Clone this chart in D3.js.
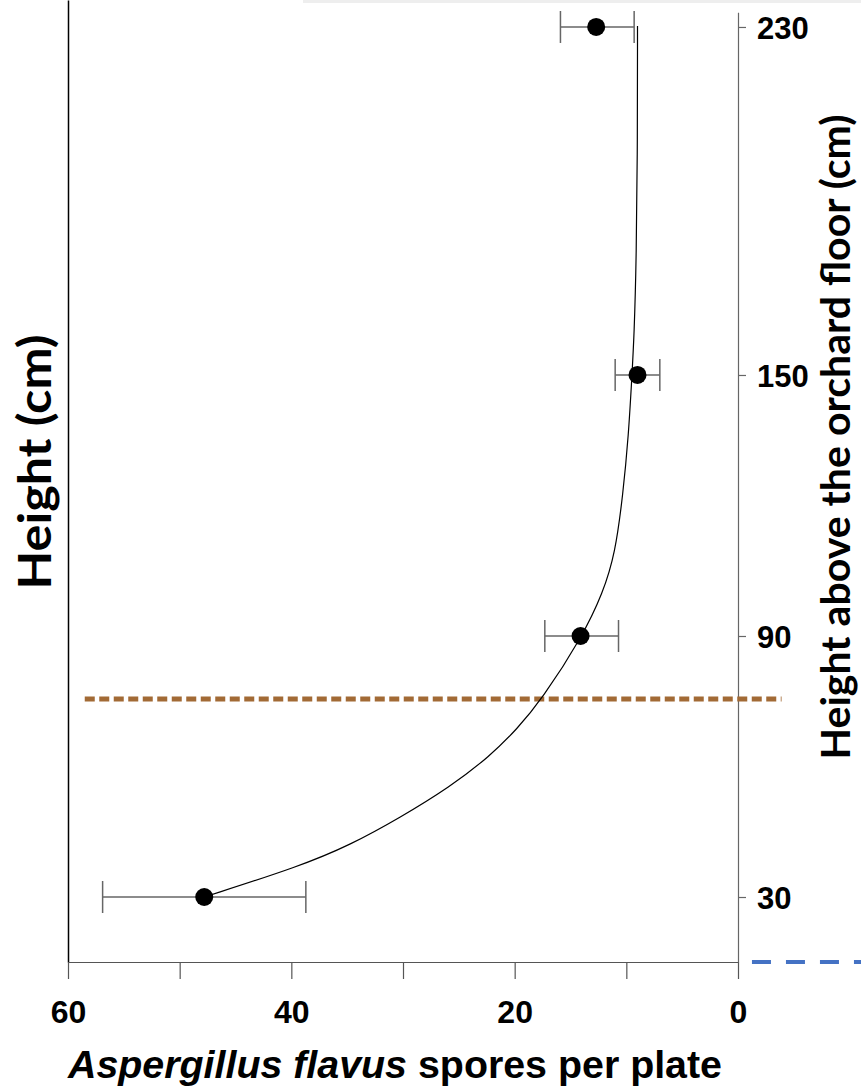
<!DOCTYPE html>
<html>
<head>
<meta charset="utf-8">
<script src="https://cdn.jsdelivr.net/npm/d3@7"></script>
<style>
  body { margin: 0; background: #fff; }
  svg { display: block; }
  .tick text { font-family: "Liberation Sans", Arial, sans-serif; font-weight: bold; fill: #000; }
</style>
</head>
<body>
<div id="chart"></div>
<script>
// measured points: height (cm) vs spores per plate
var heights = [30, 90, 150, 230];
var spores = [47.8, 14.1, 9.0, 12.7];
var sporesLow = [38.7, 10.7, 7.0, 9.3];
var sporesHigh = [56.9, 17.3, 11.0, 15.9];

// fitted curve
var curveHeight = [30, 37.1, 42.0, 48.2, 55.3, 62.4, 68.6, 75.3, 90, 99.9, 108.9, 122.6, 136.2, 149.8, 159.0, 177.1, 204.3, 230.2];
var curveSpores = [47.8, 39.2, 34.7, 30.3, 25.8, 22.2, 19.8, 17.6, 13.9, 12.1, 11.0, 10.3, 9.8, 9.5, 9.3, 9.1, 9.0, 9.0];

var xTicks = [60, 50, 40, 30, 20, 10, 0];
var xLabels = [60, 40, 20, 0];
var yTicks = [30, 90, 150, 230];

// canopy line (brown) and ground line (blue)
var canopyLine = {height: 75.5, from: 58.5, to: -3.9};
var groundLine = {height: 15.06, from: -1.25, to: -11.5};

var width = 861, height = 1091;

var x = d3.scaleLinear().domain([60, 0]).range([68, 738]);
var y = d3.scaleLinear().domain([15.06, 236.2]).range([962, 0]);

var svg = d3.select("#chart").append("svg")
    .attr("width", width)
    .attr("height", height);

// thin grey strip at the top
svg.append("rect")
    .attr("x", 303).attr("y", 0)
    .attr("width", width - 303).attr("height", 3)
    .attr("fill", "#eeeeee");

// left axis line
svg.append("g")
    .attr("transform", "translate(" + x(60) + ",0)")
    .call(d3.axisLeft(y).tickValues([]).tickSizeOuter(0))
    .select(".domain").attr("stroke", "#000").attr("stroke-width", 1.5);

// bottom axis
var xAxis = svg.append("g")
    .attr("transform", "translate(0," + y(15.06) + ")")
    .call(d3.axisBottom(x).tickValues(xTicks).tickSize(17).tickSizeOuter(0)
        .tickFormat(d => xLabels.indexOf(d) >= 0 ? d : ""));
xAxis.select(".domain").attr("stroke", "#555").attr("stroke-width", 1.2);
xAxis.selectAll(".tick line").attr("stroke", "#555").attr("stroke-width", 1.2);
xAxis.selectAll(".tick text")
    .attr("y", 61).attr("dy", null)
    .style("font-size", "32px");

// right axis
var yR = d3.scaleLinear().domain([15.06, 233.4]).range([y(15.06), y(233.4)]);
var yAxis = svg.append("g")
    .attr("transform", "translate(" + x(0) + ",0)")
    .call(d3.axisRight(yR).tickValues(yTicks).tickSize(8).tickPadding(11).tickSizeOuter(0));
yAxis.select(".domain").attr("stroke", "#666").attr("stroke-width", 1.2);
yAxis.selectAll(".tick line").attr("stroke", "#666").attr("stroke-width", 1.2);
yAxis.selectAll(".tick text")
    .attr("dy", "0.36em")
    .style("font-size", "31px");

// dashed reference lines
svg.append("line")
    .attr("x1", x(canopyLine.from)).attr("x2", x(canopyLine.to))
    .attr("y1", y(canopyLine.height)).attr("y2", y(canopyLine.height))
    .attr("stroke", "#a26a35")
    .attr("stroke-width", 5)
    .attr("stroke-dasharray", "10,4.5");

svg.append("line")
    .attr("x1", x(groundLine.from)).attr("x2", x(groundLine.to))
    .attr("y1", y(groundLine.height)).attr("y2", y(groundLine.height))
    .attr("stroke", "#4472c4")
    .attr("stroke-width", 4)
    .attr("stroke-dasharray", "19,15");

// fitted curve
var curveData = curveHeight.map((h, i) => ({h: h, s: curveSpores[i]}));
svg.append("path")
    .datum(curveData)
    .attr("fill", "none")
    .attr("stroke", "#000")
    .attr("stroke-width", 1.2)
    .attr("d", d3.line()
        .x(d => x(d.s))
        .y(d => y(d.h))
        .curve(d3.curveBasis));

// error bars + points
var pts = heights.map((h, i) => ({h: h, s: spores[i], lo: sporesLow[i], hi: sporesHigh[i]}));

var bars = svg.append("g").attr("stroke", "#666").attr("stroke-width", 1.5);
bars.selectAll(".err")
    .data(pts).enter().append("line")
    .attr("x1", d => x(d.lo)).attr("x2", d => x(d.hi))
    .attr("y1", d => y(d.h)).attr("y2", d => y(d.h));
bars.selectAll(".capL")
    .data(pts).enter().append("line")
    .attr("x1", d => x(d.lo)).attr("x2", d => x(d.lo))
    .attr("y1", d => y(d.h) - 16).attr("y2", d => y(d.h) + 16);
bars.selectAll(".capH")
    .data(pts).enter().append("line")
    .attr("x1", d => x(d.hi)).attr("x2", d => x(d.hi))
    .attr("y1", d => y(d.h) - 16).attr("y2", d => y(d.h) + 16);

svg.selectAll("circle")
    .data(pts).enter().append("circle")
    .attr("cx", d => x(d.s))
    .attr("cy", d => y(d.h))
    .attr("r", 9)
    .attr("fill", "#000");

// axis titles
var xTitle = svg.append("text")
    .attr("x", 68).attr("y", 1078)
    .attr("textLength", 654)
    .attr("lengthAdjust", "spacingAndGlyphs")
    .style("font-family", "'Liberation Sans', Arial, sans-serif")
    .style("font-weight", "bold")
    .style("font-size", "38px");
xTitle.append("tspan").style("font-style", "italic").text("Aspergillus flavus");
xTitle.append("tspan").text(" spores per plate");

svg.append("text")
    .attr("transform", "translate(51,462) rotate(-90)")
    .attr("text-anchor", "middle")
    .attr("textLength", 255)
    .attr("lengthAdjust", "spacingAndGlyphs")
    .style("font-family", "Lato, sans-serif")
    .style("font-weight", "bold")
    .style("font-size", "45px")
    .text("Height (cm)");

svg.append("text")
    .attr("transform", "translate(850,437) rotate(-90)")
    .attr("text-anchor", "middle")
    .attr("textLength", 645)
    .attr("lengthAdjust", "spacingAndGlyphs")
    .style("font-family", "Lato, sans-serif")
    .style("font-weight", "bold")
    .style("font-size", "40px")
    .text("Height above the orchard floor (cm)");
</script>
</body>
</html>
